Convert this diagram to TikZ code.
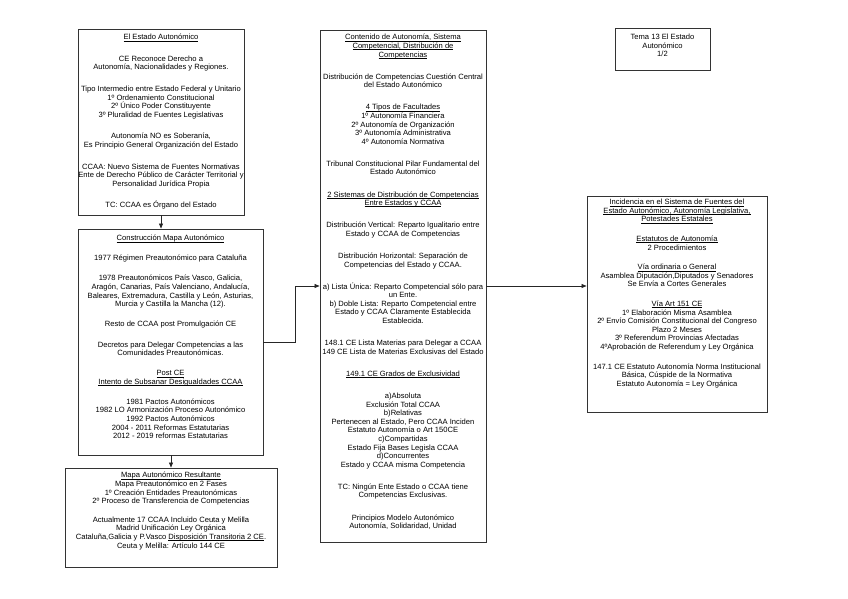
\documentclass[tikz,border=0pt]{standalone}
\usepackage{fontspec}
\setmainfont{Liberation Sans}
\usetikzlibrary{arrows.meta}
\newsavebox\ulbox
\newcommand\ulx[1]{\sbox\ulbox{#1}\rlap{\rule[-1.3pt]{\wd\ulbox}{0.45pt}}\usebox\ulbox}
\begin{document}
\begin{tikzpicture}[x=1pt,y=-1pt,
  box/.style={draw=black!80, line width=0.9pt, inner sep=0pt, fill=white},
  txt/.style={align=center, inner sep=0pt, font=\fontsize{7.6}{8.6}\selectfont, anchor=north},
  arr/.style={-{Triangle[length=5pt,width=4pt]}, line width=0.7pt, draw=black!85}]
\useasboundingbox (0,0) rectangle (848,599);
% boxes
\node[box, minimum width=166pt, minimum height=186pt] (b1) at (161,122) {};
\node[box, minimum width=185pt, minimum height=226pt] (b2) at (170.5,342) {};
\node[box, minimum width=212pt, minimum height=99pt] (b3) at (171,517.5) {};
\node[box, minimum width=166pt, minimum height=512pt] (mid) at (403,286) {};
\node[box, minimum width=95pt, minimum height=42pt] (tema) at (662.5,49) {};
\node[box, minimum width=180pt, minimum height=216pt] (rt) at (677,304) {};
% texts
\node[txt] (t1) at (161,34) {\ulx{El Estado Autonómico}\\[13pt]
CE Reconoce Derecho a\\
Autonomía, Nacionalidades y Regiones.\\[13pt]
Tipo Intermedio entre Estado Federal y Unitario\\
1º Ordenamiento Constitucional\\
2º Único Poder Constituyente\\
3º Pluralidad de Fuentes Legislativas\\[13pt]
Autonomía NO es Soberanía,\\
Es Principio General Organización del Estado\\[13pt]
CCAA: Nuevo Sistema de Fuentes Normativas\\
Ente de Derecho Público de Carácter Territorial y\\
Personalidad Jurídica Propia\\[13pt]
TC: CCAA es Órgano del Estado};
\node[txt] (t2) at (170.5,235) {\ulx{Construcción Mapa Autonómico}\\[11.5pt]
1977 Régimen Preautonómico para Cataluña\\[11.5pt]
1978 Preautonómicos País Vasco, Galicia,\\
Aragón, Canarias, País Valenciano, Andalucía,\\
Baleares, Extremadura, Castilla y León, Asturias,\\
Murcia y Castilla la Mancha (12).\\[11.5pt]
Resto de CCAA post Promulgación CE\\[11.5pt]
Decretos para Delegar Competencias a las\\
Comunidades Preautonómicas.\\[11.5pt]
\ulx{Post CE}\\
\ulx{Intento de Subsanar Desigualdades CCAA}\\[11.5pt]
1981 Pactos Autonómicos\\
1982 LO Armonización Proceso Autonómico\\
1992 Pactos Autonómicos\\
2004 - 2011 Reformas Estatutarias\\
2012 - 2019 reformas Estatutarias};
\node[txt] (t3) at (171,472) {\ulx{Mapa Autonómico Resultante}\\
Mapa Preautonómico en 2 Fases\\
1º Creación Entidades Preautonómicas\\
2º Proceso de Transferencia de Competencias\\[10pt]
Actualmente 17 CCAA Incluido Ceuta y Melilla\\
Madrid Unificación Ley Orgánica\\
Cataluña,Galicia y P.Vasco \ulx{Disposición Transitoria 2 CE}.\\
Ceuta y Melilla: Artículo 144 CE};
\node[txt] (tm) at (403,34) {\ulx{Contenido de Autonomía, Sistema}\\
\ulx{Competencial, Distribución de}\\
\ulx{Competencias}\\[13.5pt]
Distribución de Competencias Cuestión Central\\
del Estado Autonómico\\[13.5pt]
\ulx{4 Tipos de Facultades}\\
1º Autonomía Financiera\\
2º Autonomía de Organización\\
3º Autonomía Administrativa\\
4º Autonomía Normativa\\[13.5pt]
Tribunal Constitucional Pilar Fundamental del\\
Estado Autonómico\\[13.5pt]
\ulx{2 Sistemas de Distribución de Competencias}\\
\ulx{Entre Estados y CCAA}\\[13.5pt]
Distribución Vertical: Reparto Igualitario entre\\
Estado y CCAA de Competencias\\[13.5pt]
Distribución Horizontal: Separación de\\
Competencias del Estado y CCAA.\\[13.5pt]
a) Lista Única: Reparto Competencial sólo para\\
un Ente.\\
b) Doble Lista: Reparto Competencial entre\\
Estado y CCAA Claramente Establecida\\
Establecida.\\[13.5pt]
148.1 CE Lista Materias para Delegar a CCAA\\
149 CE Lista de Materias Exclusivas del Estado\\[13.5pt]
\ulx{149.1 CE Grados de Exclusividad}\\[13.5pt]
a)Absoluta\\
Exclusión Total CCAA\\
b)Relativas\\
Pertenecen al Estado, Pero CCAA Inciden\\
Estatuto Autonomía o Art 150CE\\
c)Compartidas\\
Estado Fija Bases Legisla CCAA\\
d)Concurrentes\\
Estado y CCAA misma Competencia\\[13.5pt]
TC: Ningún Ente Estado o CCAA tiene\\
Competencias Exclusivas.\\[13.5pt]
Principios Modelo Autonómico\\
Autonomía, Solidaridad, Unidad};
\node[txt] (tt) at (662.5,34) {Tema 13 El Estado\\ Autonómico\\ 1/2};
\node[txt] (tr) at (677,199) {\ulx{Incidencia en el Sistema de Fuentes del}\\
\ulx{Estado Autonómico, Autonomía Legislativa,}\\
\ulx{Potestades Estatales}\\[11pt]
\ulx{Estatutos de Autonomía}\\
2 Procedimientos\\[11pt]
\ulx{Vía ordinaria o General}\\
Asamblea Diputación,Diputados y Senadores\\
Se Envía a Cortes Generales\\[11pt]
\ulx{Vía Art 151 CE}\\
1º Elaboración Misma Asamblea\\
2º Envío Comisión Constitucional del Congreso\\
Plazo 2 Meses\\
3º Referendum Provincias Afectadas\\
4ºAprobación de Referendum y Ley Orgánica\\[11pt]
147.1 CE Estatuto Autonomía Norma Institucional\\
Básica, Cúspide de la Normativa\\
Estatuto Autonomía = Ley Orgánica};
% connectors
\coordinate (k) at (295,286);
\draw[arr] (b1.south) -- (b1.south |- b2.north);
\draw[arr] (b2.south -| b3.north) -- (b3.north);
\draw[arr] (b2.east) -| (k) -- (mid.west |- k);
\draw[arr] (mid.east |- k) -- (rt.west |- k);
\end{tikzpicture}
\end{document}
